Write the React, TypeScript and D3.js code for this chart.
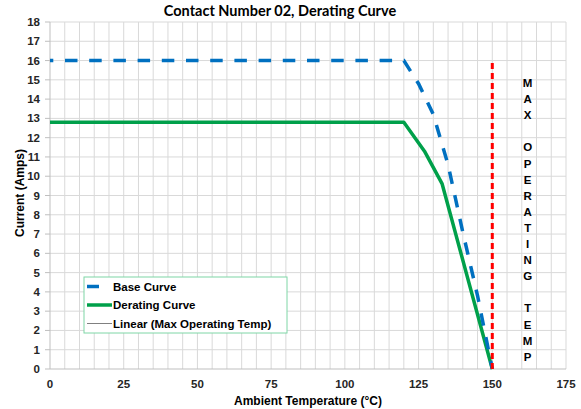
import { useEffect, useRef } from 'react';
import * as d3 from 'd3';

const WIDTH = 581;
const HEIGHT = 409;
const MARGIN = { top: 22, right: 15, bottom: 40, left: 50 } as const;

const TITLE = 'Contact Number 02, Derating Curve';
const X_LABEL = 'Ambient Temperature (°C)';
const Y_LABEL = 'Current (Amps)';

const X_TICKS = [0, 25, 50, 75, 100, 125, 150, 175];
const Y_TICKS = [0, 1, 2, 3, 4, 5, 6, 7, 8, 9, 10, 11, 12, 13, 14, 15, 16, 17, 18];

// base curve (blue dashed)
const BASE_TEMP = [0, 120, 125, 130, 135, 140, 145, 150];
const BASE_AMPS = [16, 16, 14.8, 13.2, 10.6, 7.1, 3.8, 0];

// derating curve (green)
const DERATE_TEMP = [0, 120, 127, 133, 150];
const DERATE_AMPS = [12.8, 12.8, 11.3, 9.6, 0];

// max operating temp marker (red dashed)
const MAX_TEMP = [150, 150];
const MAX_AMPS = [0, 16];

const MAX_TEXT = ['M', 'A', 'X', '', 'O', 'P', 'E', 'R', 'A', 'T', 'I', 'N', 'G', '', 'T', 'E', 'M', 'P'];

const LEGEND = [
  { label: 'Base Curve', color: '#0070c0', width: 3.5, sample: 12 },
  { label: 'Derating Curve', color: '#00a04a', width: 3.5, sample: 25 },
  { label: 'Linear (Max Operating Temp)', color: '#808080', width: 1, sample: 25 },
];

const FONT = 'Arial, "Liberation Sans", sans-serif';

export default function App() {
  const svgRef = useRef<SVGSVGElement | null>(null);

  useEffect(() => {
    const svgEl = svgRef.current;
    if (!svgEl) return;
    const svg = d3.select(svgEl);
    svg.selectAll('*').remove();

    const innerW = WIDTH - MARGIN.left - MARGIN.right;
    const innerH = HEIGHT - MARGIN.top - MARGIN.bottom;
    const x = d3.scaleLinear().domain([0, 175]).range([0, innerW]);
    const y = d3.scaleLinear().domain([0, 18]).range([innerH, 0]);

    svg.append('rect').attr('width', WIDTH).attr('height', HEIGHT).attr('fill', '#ffffff');

    svg
      .append('text')
      .attr('x', 280)
      .attr('y', 16)
      .attr('text-anchor', 'middle')
      .attr('font-family', 'Lato, "Open Sans", sans-serif')
      .attr('font-weight', 'bold')
      .attr('font-size', 14.5)
      .attr('fill', '#000')
      .text(TITLE);

    const root = svg.append('g').attr('transform', `translate(${MARGIN.left},${MARGIN.top})`);

    // ---- grid ------------------------------------------------------------
    const minorX = d3.range(5, 176, 5);
    root
      .append('g')
      .selectAll('line')
      .data(minorX)
      .join('line')
      .attr('x1', (d) => x(d))
      .attr('x2', (d) => x(d))
      .attr('y1', 0)
      .attr('y2', innerH)
      .attr('stroke', '#d9d9d9')
      .attr('stroke-width', 1);
    root
      .append('g')
      .selectAll('line')
      .data(Y_TICKS.slice(1))
      .join('line')
      .attr('x1', 0)
      .attr('x2', innerW)
      .attr('y1', (d) => y(d))
      .attr('y2', (d) => y(d))
      .attr('stroke', '#d9d9d9')
      .attr('stroke-width', 1);

    // ---- axes ------------------------------------------------------------
    root
      .append('line')
      .attr('x1', 0)
      .attr('x2', 0)
      .attr('y1', 0)
      .attr('y2', innerH)
      .attr('stroke', '#bfbfbf');
    root
      .append('line')
      .attr('x1', 0)
      .attr('x2', innerW)
      .attr('y1', innerH)
      .attr('y2', innerH)
      .attr('stroke', '#bfbfbf');

    root
      .append('g')
      .selectAll('line')
      .data(Y_TICKS)
      .join('line')
      .attr('x1', -5)
      .attr('x2', 0)
      .attr('y1', (d) => y(d))
      .attr('y2', (d) => y(d))
      .attr('stroke', '#bfbfbf');
    root
      .append('g')
      .selectAll('text')
      .data(Y_TICKS)
      .join('text')
      .attr('x', -10)
      .attr('y', (d) => y(d) + 4)
      .attr('text-anchor', 'end')
      .attr('font-family', FONT)
      .attr('font-weight', 'bold')
      .attr('font-size', 11.5)
      .attr('fill', '#262626')
      .text((d) => d);

    root
      .append('g')
      .selectAll('text')
      .data(X_TICKS)
      .join('text')
      .attr('x', (d) => x(d))
      .attr('y', innerH + 19)
      .attr('text-anchor', 'middle')
      .attr('font-family', FONT)
      .attr('font-weight', 'bold')
      .attr('font-size', 11.5)
      .attr('fill', '#262626')
      .text((d) => d);

    svg
      .append('text')
      .attr('x', 308)
      .attr('y', 405)
      .attr('text-anchor', 'middle')
      .attr('font-family', FONT)
      .attr('font-weight', 'bold')
      .attr('font-size', 12)
      .attr('fill', '#000')
      .text(X_LABEL);
    svg
      .append('text')
      .attr('transform', `translate(24, 193) rotate(-90)`)
      .attr('text-anchor', 'middle')
      .attr('font-family', FONT)
      .attr('font-weight', 'bold')
      .attr('font-size', 12)
      .attr('fill', '#000')
      .text(Y_LABEL);

    // ---- series ----------------------------------------------------------
    const line = d3
      .line<[number, number]>()
      .x((d) => x(d[0]))
      .y((d) => y(d[1]));

    root
      .append('path')
      .datum(DERATE_TEMP.map((t, i) => [t, DERATE_AMPS[i]] as [number, number]))
      .attr('fill', 'none')
      .attr('stroke', '#00a04a')
      .attr('stroke-width', 3.5)
      .attr('stroke-linejoin', 'round')
      .attr('d', line);

    root
      .append('path')
      .datum(BASE_TEMP.map((t, i) => [t, BASE_AMPS[i]] as [number, number]))
      .attr('fill', 'none')
      .attr('stroke', '#0070c0')
      .attr('stroke-width', 3.5)
      .attr('stroke-dasharray', '12.5 11.7')
      .attr('stroke-dashoffset', 9.2)
      .attr('d', line);

    root
      .append('path')
      .datum(MAX_TEMP.map((t, i) => [t, MAX_AMPS[i]] as [number, number]))
      .attr('fill', 'none')
      .attr('stroke', '#ff0000')
      .attr('stroke-width', 3)
      .attr('stroke-dasharray', '6 4')
      .attr('d', line);

    // ---- vertical MAX OPERATING TEMP text ---------------------------------
    root
      .append('g')
      .selectAll('text')
      .data(MAX_TEXT)
      .join('text')
      .attr('x', x(162))
      .attr('y', (_, i) => 65 + i * 16.1)
      .attr('text-anchor', 'middle')
      .attr('font-family', FONT)
      .attr('font-weight', 'bold')
      .attr('font-size', 11.5)
      .attr('fill', '#000')
      .text((d) => d);

    // ---- legend ----------------------------------------------------------
    const lg = svg.append('g').attr('transform', 'translate(84, 277)');
    lg.append('rect')
      .attr('width', 203)
      .attr('height', 56)
      .attr('fill', '#ffffff')
      .attr('stroke', '#7fd6a6')
      .attr('stroke-width', 1);
    LEGEND.forEach((item, i) => {
      const ly = 9.5 + i * 18.5;
      lg.append('line')
        .attr('x1', 3)
        .attr('x2', 3 + item.sample)
        .attr('y1', ly)
        .attr('y2', ly)
        .attr('stroke', item.color)
        .attr('stroke-width', item.width);
      lg.append('text')
        .attr('x', 29)
        .attr('y', ly + 4)
        .attr('font-family', FONT)
        .attr('font-weight', 'bold')
        .attr('font-size', 11.5)
        .attr('fill', '#000')
        .text(item.label);
    });
  }, []);

  return (
    <svg
      ref={svgRef}
      width={WIDTH}
      height={HEIGHT}
      viewBox={`0 0 ${WIDTH} ${HEIGHT}`}
      style={{ display: 'block', position: 'absolute', left: 0, top: 0 }}
    />
  );
}
